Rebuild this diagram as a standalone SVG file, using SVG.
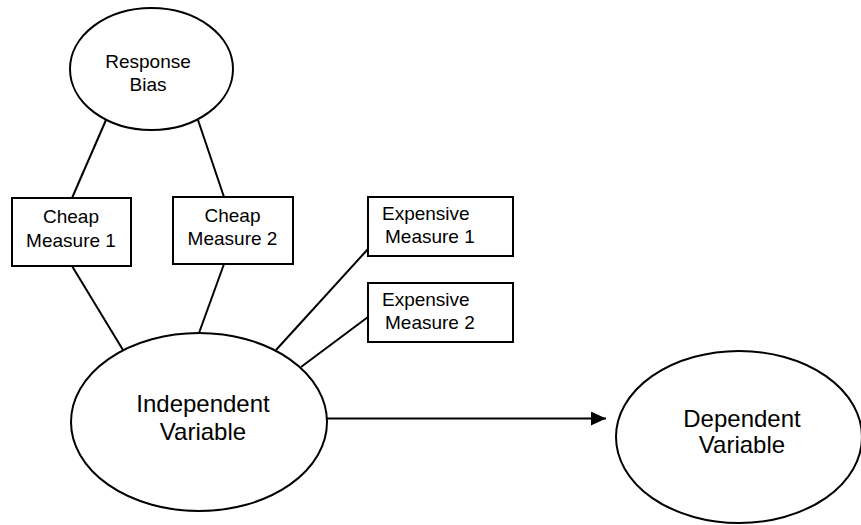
<svg xmlns="http://www.w3.org/2000/svg" width="861" height="525" viewBox="0 0 861 525">
  <style>
    .shape { fill: #fff; stroke: #000; stroke-width: 2; }
    .link { stroke: #000; stroke-width: 2; fill: none; }
    .lbl { font-family: "Liberation Sans", Arial, sans-serif; font-size: 19px; fill: #000; }
    .mid { text-anchor: middle; }
    .big { font-size: 24px; }
  </style>
  <defs>
    <marker id="arrowhead" viewBox="0 0 15 14" refX="15" refY="7" markerWidth="15" markerHeight="14" markerUnits="userSpaceOnUse" orient="auto">
      <path d="M0,0 L15,7 L0,14 Z" fill="#000"/>
    </marker>
  </defs>
  <rect width="861" height="525" fill="#fff"/>

  <!-- connectors -->
  <g id="connectors">
    <line class="link" x1="106" y1="120" x2="72" y2="198"/>
    <line class="link" x1="198" y1="120" x2="224" y2="197"/>
    <line class="link" x1="72" y1="266" x2="123" y2="350"/>
    <line class="link" x1="224" y1="264" x2="199" y2="333"/>
    <line class="link" x1="368" y1="249" x2="276" y2="350"/>
    <line class="link" x1="368" y1="317" x2="301" y2="367"/>
    <line class="link" x1="327" y1="418.5" x2="606" y2="418.5" marker-end="url(#arrowhead)"/>
  </g>

  <g id="response-bias">
    <ellipse class="shape" cx="151.5" cy="69" rx="81.5" ry="61"/>
    <text class="lbl mid" x="148" y="68">Response</text>
    <text class="lbl mid" x="148" y="91">Bias</text>
  </g>

  <g id="cheap-measure-1">
    <rect class="shape" x="12" y="198" width="119" height="68"/>
    <text class="lbl mid" x="71" y="223">Cheap</text>
    <text class="lbl mid" x="71" y="247">Measure 1</text>
  </g>

  <g id="cheap-measure-2">
    <rect class="shape" x="173" y="197" width="120" height="67"/>
    <text class="lbl mid" x="232.5" y="222">Cheap</text>
    <text class="lbl mid" x="232.5" y="245">Measure 2</text>
  </g>

  <g id="expensive-measure-1">
    <rect class="shape" x="368" y="197" width="145" height="59"/>
    <text class="lbl" x="382" y="220">Expensive</text>
    <text class="lbl" x="385" y="243">Measure 1</text>
  </g>

  <g id="expensive-measure-2">
    <rect class="shape" x="368" y="283" width="145" height="59"/>
    <text class="lbl" x="382" y="306">Expensive</text>
    <text class="lbl" x="385" y="329">Measure 2</text>
  </g>

  <g id="independent-variable">
    <ellipse class="shape" cx="199" cy="422" rx="128" ry="89"/>
    <text class="lbl big mid" x="203" y="412">Independent</text>
    <text class="lbl big mid" x="203" y="440">Variable</text>
  </g>

  <g id="dependent-variable">
    <ellipse class="shape" cx="739" cy="437" rx="123" ry="86"/>
    <text class="lbl big mid" x="742" y="427">Dependent</text>
    <text class="lbl big mid" x="742" y="453">Variable</text>
  </g>
</svg>
